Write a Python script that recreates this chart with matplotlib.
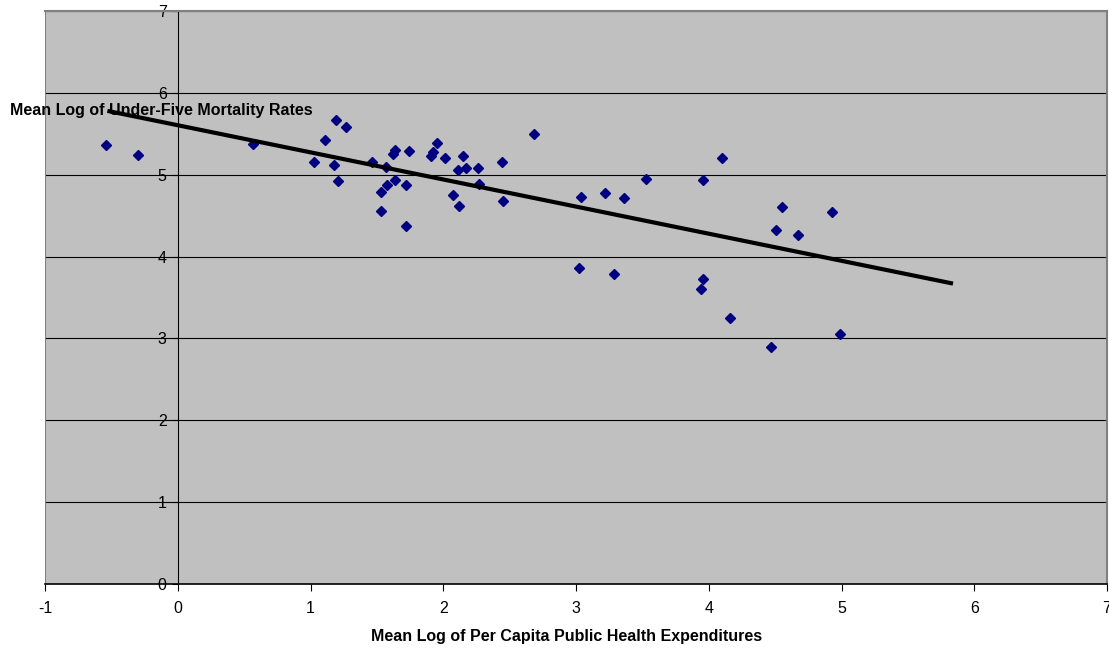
import numpy as np
import matplotlib.pyplot as plt

plt.rcParams['font.family'] = ['Liberation Sans', 'DejaVu Sans']
plt.rcParams['axes.unicode_minus'] = False

# Mean log of per capita public health expenditures
exp_log = [-0.54, -0.30, 0.57, 1.03, 1.11, 1.18, 1.19, 1.21, 1.27, 1.46,
           1.53, 1.53, 1.57, 1.58, 1.62, 1.64, 1.64, 1.72, 1.72, 1.74,
           1.91, 1.92, 1.95, 2.01, 2.07, 2.11, 2.12, 2.15, 2.17, 2.26,
           2.27, 2.44, 2.45, 2.68, 3.02, 3.04, 3.22, 3.29, 3.36, 3.53,
           3.94, 3.96, 3.96, 4.10, 4.16, 4.47, 4.51, 4.55, 4.67, 4.93, 4.99]
# Mean log of under-five mortality rates
mort_log = [5.36, 5.24, 5.37, 5.15, 5.42, 5.12, 5.67, 4.92, 5.58, 5.16,
            4.56, 4.79, 5.09, 4.88, 5.25, 4.94, 5.30, 4.37, 4.87, 5.29,
            5.23, 5.28, 5.39, 5.21, 4.75, 5.06, 4.62, 5.23, 5.08, 5.08,
            4.89, 5.15, 4.68, 5.50, 3.86, 4.73, 4.78, 3.79, 4.71, 4.95,
            3.60, 4.93, 3.73, 5.20, 3.25, 2.90, 4.33, 4.61, 4.26, 4.54, 3.06]

# trend line end points
fit_x = [-0.53, 5.84]
fit_y = [5.78, 3.67]

W, H = 1109, 650
fig = plt.figure(figsize=(W / 100, H / 100), dpi=100)
ax = fig.add_axes([45 / W, (H - 584) / H, (1107 - 45) / W, (584 - 11) / H])
ax.set_facecolor('#C0C0C0')

ax.set_xlim(-1, 7)
ax.set_ylim(0, 7)
ax.set_xticks(range(-1, 8))
ax.set_yticks(range(0, 8))

for y in range(1, 8):
    ax.axhline(y, color='black', lw=0.8, zorder=1)
ax.axvline(-1, color='#808080', lw=1.5, zorder=1)

ax.spines['left'].set_position(('data', 0))
ax.spines['left'].set_color('black')
ax.spines['left'].set_linewidth(0.8)
ax.spines['bottom'].set_color('black')
ax.spines['bottom'].set_linewidth(1.2)
for s in ['top', 'right']:
    ax.spines[s].set_color('#808080')
    ax.spines[s].set_linewidth(1.5)

ax.tick_params(axis='y', direction='out', length=4, width=0.8, pad=4, labelsize=11.5)
ax.tick_params(axis='x', direction='out', length=5, width=0.8, pad=7, labelsize=11.5)

ax.plot(exp_log, mort_log, linestyle='none', marker='D', ms=5,
        color='#000080', zorder=3)
ax.plot(fit_x, fit_y, color='black', lw=3, solid_capstyle='butt', zorder=4)

fig.text(10 / W, 1 - 110 / H, 'Mean Log of Under-Five Mortality Rates',
         fontsize=11.5, fontweight='bold', va='center', ha='left', zorder=5)
fig.text(567 / W, 1 - 636 / H, 'Mean Log of Per Capita Public Health Expenditures',
         fontsize=11.5, fontweight='bold', va='center', ha='center')

fig.savefig('out.png', dpi=100)
